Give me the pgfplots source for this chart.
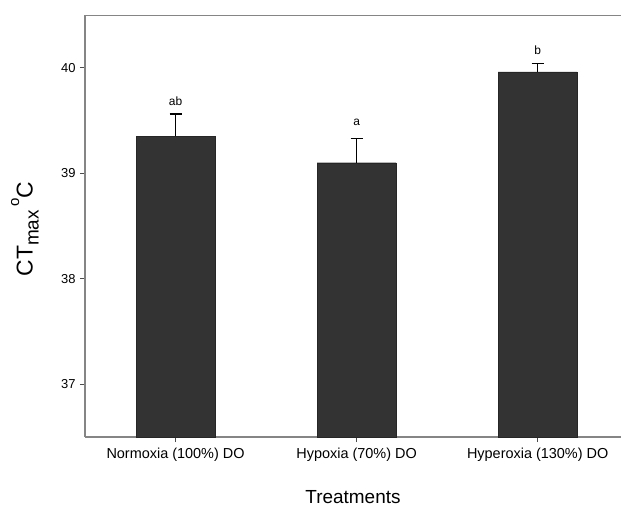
\documentclass[border=0pt]{standalone}
\usepackage{fontspec}
\setmainfont{Liberation Sans}
\usepackage{pgfplots}
\pgfplotsset{compat=1.18}
\usepackage{pgfplotstable}
\definecolor{barfill}{HTML}{333333}
\definecolor{axgray}{HTML}{858585}
\pgfplotstableread{
x y err
0 39.35 0.21
1 39.10 0.23
2 39.96 0.08
}\datatable
\begin{document}
\begin{tikzpicture}
\begin{axis}[
  scale only axis,
  width=536bp, height=422bp,
  xmin=-0.5, xmax=2.46,
  ymin=36.5, ymax=40.5,
  axis x line*=bottom, axis y line*=left,
  axis line style={-, axgray, line width=1.6bp},
  ytick={37,38,39,40},
  xtick={0,1,2},
  xticklabels={Normoxia (100\%) DO, Hypoxia (70\%) DO, Hyperoxia (130\%) DO},
  tick align=outside,
  major tick length=5bp,
  tick style={black!70, line width=0.8bp},
  /pgf/number format/assume math mode=true,
  yticklabel style={font=\fontsize{13}{13}\selectfont, xshift=-1bp},
  xticklabel style={font=\fontsize{14.5}{14.5}\selectfont, yshift=-3bp},
  xlabel={Treatments},
  xlabel style={at={(axis description cs:0.5,0)}, anchor=base, yshift=-66bp, font=\fontsize{19}{19}\selectfont},
  ylabel={CT\raisebox{-0.5ex}{\fontsize{19}{19}\selectfont max}\,\raisebox{1.1ex}{\fontsize{15}{15}\selectfont o}C},
  ylabel style={at={(axis description cs:0,0.5)}, anchor=center, yshift=60bp, xshift=-3bp, font=\fontsize{23}{23}\selectfont},
  ybar, bar width=79bp,
]
\addplot[fill=barfill, draw=black!85,
  error bars/.cd, y dir=plus, y explicit,
  error bar style={black, line width=1.4bp},
  error mark options={black, line width=1.4bp, mark size=6bp, rotate=90}]
  table[x=x, y=y, y error=err]{\datatable};
\node[anchor=base, font=\fontsize{12}{12}\selectfont] at (axis cs:0,39.56) [yshift=9bp] {ab};
\node[anchor=base, font=\fontsize{12}{12}\selectfont] at (axis cs:1,39.33) [yshift=13bp] {a};
\node[anchor=base, font=\fontsize{12}{12}\selectfont] at (axis cs:2,40.04) [yshift=9bp] {b};
\draw[axgray, line width=1.6bp] (rel axis cs:0,1) -- (rel axis cs:1,1);
\coordinate (bl) at (rel axis cs:0,0);
\coordinate (tr) at (rel axis cs:1,1);
\end{axis}
\pgfresetboundingbox
\path[use as bounding box] ([shift={(-85bp,-70bp)}]bl) rectangle ([shift={(0,15bp)}]tr);
\end{tikzpicture}
\end{document}
